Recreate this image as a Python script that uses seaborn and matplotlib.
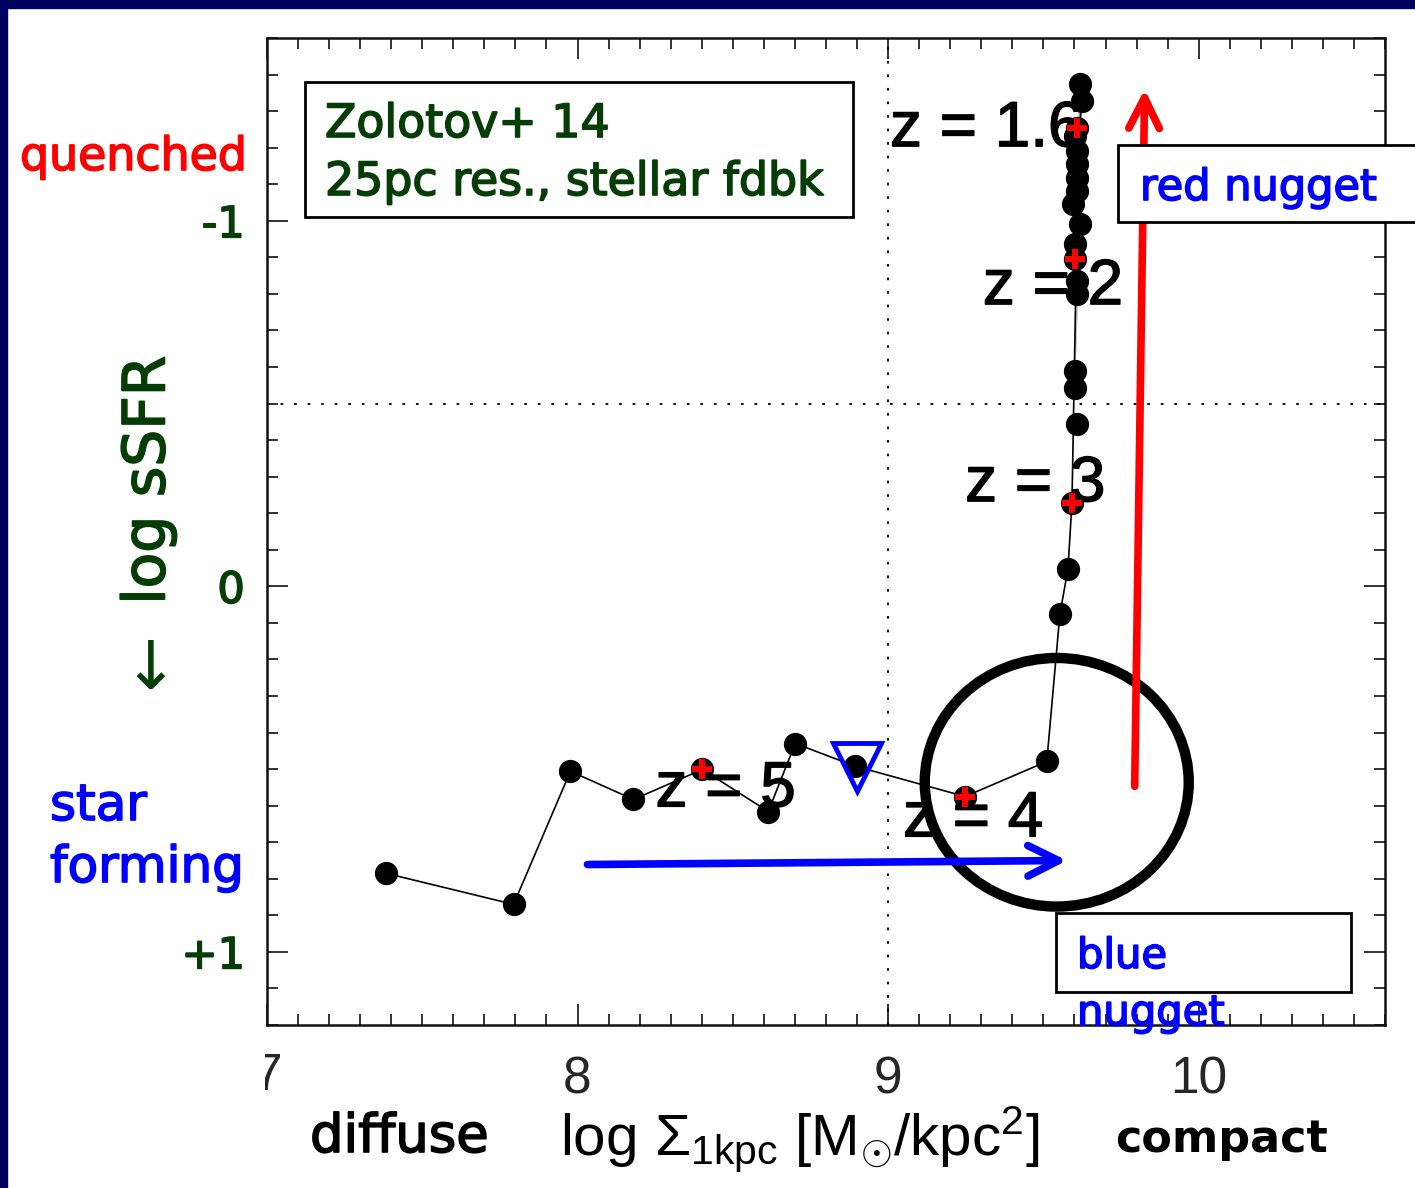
import matplotlib
matplotlib.use("Agg")
import matplotlib.pyplot as plt
import numpy as np
import pandas as pd
import seaborn as sns
from matplotlib.patches import Ellipse, Rectangle
from matplotlib.transforms import Bbox
from matplotlib.ticker import MultipleLocator
import matplotlib.patheffects as pe

# Evolution track of one simulated galaxy (high redshift -> low redshift)
log_sigma1 = [7.383, 7.794, 7.977, 8.180, 8.402, 8.614, 8.701, 8.894, 9.248, 9.511,
              9.553, 9.579, 9.592, 9.608, 9.601, 9.601, 9.608, 9.608, 9.601, 9.601,
              9.617, 9.595, 9.608, 9.608, 9.608, 9.608, 9.601, 9.608, 9.624, 9.617]
log_ssfr = [0.785, 0.870, 0.506, 0.583, 0.501, 0.616, 0.430, 0.492, 0.575, 0.479,
            0.077, -0.047, -0.227, -0.443, -0.542, -0.588, -0.799, -0.834, -0.895, -0.936,
            -0.990, -1.045, -1.081, -1.116, -1.155, -1.190, -1.231, -1.253, -1.327, -1.373]

# snapshots marked with a red cross, and their redshift labels
z_marker_index = [4, 8, 12, 18, 27]
z_labels = ["z = 5", "z = 4", "z = 3", "z = 2", "z = 1.6"]
z_label_pos = [(8.251, 0.602), (9.048, 0.684), (9.248, -0.233), (9.305, -0.772), (9.006, -1.204)]

# compaction event (open triangle)
compaction_x = [8.90]
compaction_y = [0.495]

x_ticks = [7, 8, 9, 10]
x_ticklabels = ["", "8", "9", "10"]
y_ticks = [-1, 0, 1]
y_ticklabels = ["-1", "0", "+1"]

sns.set_style("ticks")
COMIC = ["DejaVu Sans"]
HELV = ["Liberation Sans", "DejaVu Sans"]
plt.rcParams["font.family"] = HELV
plt.rcParams["mathtext.fontset"] = "custom"
plt.rcParams["mathtext.rm"] = "Liberation Sans"
plt.rcParams["mathtext.it"] = "Liberation Sans:italic"
plt.rcParams["mathtext.bf"] = "Liberation Sans:bold"

GREEN = "#063d06"
BLUE = "#0000ff"
RED = "#ff0000"
NAVY = "#00005e"

W, H = 1415, 1188
fig = plt.figure(figsize=(W / 100, H / 100), dpi=100)
fig.patch.set_facecolor("white")


def fx(px):
    return px / W


def fy(py):
    return 1 - py / H


def heavy(color, lw=1.2):
    # thicker strokes for the hand-written style labels
    return [pe.withStroke(linewidth=lw, foreground=color)]


ax = fig.add_axes([fx(267), fy(1025), fx(1385) - fx(267), (1025 - 38) / H])

track = pd.DataFrame({"sigma": log_sigma1, "ssfr": log_ssfr})
sns.lineplot(data=track, x="sigma", y="ssfr", sort=False, color="black", lw=1.2,
             ax=ax, zorder=3)
sns.scatterplot(data=track, x="sigma", y="ssfr", color="black", s=280,
                linewidth=0, ax=ax, zorder=4)
zm = track.iloc[z_marker_index]
sns.scatterplot(data=zm, x="sigma", y="ssfr", color=RED, marker="P", s=210,
                linewidth=0, ax=ax, zorder=5)
ax.plot(compaction_x, compaction_y, marker="v", ms=34, mfc="none", mec=BLUE,
        mew=3.5, ls="none", zorder=5)

for lab, (tx, ty) in zip(z_labels, z_label_pos):
    ax.text(tx, ty, lab, fontsize=46, family=HELV, color="black",
            ha="left", va="baseline", zorder=2, path_effects=heavy("black", 1.0))

# reference lines
ax.axvline(9, color="black", lw=1.3, ls=(0, (1.5, 6)), zorder=1)
ax.axhline(-0.5, color="black", lw=1.3, ls=(0, (1.5, 6)), zorder=1)

# compaction circle
ax.add_patch(Ellipse((9.543, 0.536), 0.85, 0.68, fill=False, ec="black",
                     lw=7.5, zorder=6))

# red (quenching) and blue (compaction) arrows
ax.annotate("", xy=(9.826, -1.36), xytext=(9.794, 0.547),
            arrowprops=dict(arrowstyle="->,head_length=22,head_width=11",
                            color=RED, lw=5.5, shrinkA=0, shrinkB=0,
                            mutation_scale=1), zorder=6)
ax.annotate("", xy=(9.576, 0.750), xytext=(8.032, 0.761),
            arrowprops=dict(arrowstyle="->,head_length=22,head_width=11",
                            color=BLUE, lw=5.5, shrinkA=0, shrinkB=0,
                            mutation_scale=1), zorder=6)

ax.set_xlim(7.0, 10.6)
ax.set_ylim(1.2, -1.5)
ax.set_xticks(x_ticks)
ax.set_xticklabels(x_ticklabels, fontsize=37, family=HELV)
ax.set_yticks(y_ticks)
ax.set_yticklabels(y_ticklabels, fontsize=31, family=COMIC, color=GREEN)
for lab in ax.get_yticklabels():
    lab.set_path_effects(heavy(GREEN))
ax.xaxis.set_minor_locator(MultipleLocator(0.1))
ax.yaxis.set_minor_locator(MultipleLocator(0.1))
ax.tick_params(which="both", direction="in", top=True, right=True, width=1.3,
               color="#222222")
ax.tick_params(which="major", length=15)
ax.tick_params(which="minor", length=8)
ax.tick_params(axis="x", which="major", pad=22)
ax.tick_params(axis="y", which="major", pad=16)
ax.set_xlabel("")
ax.set_ylabel("")
for sp in ax.spines.values():
    sp.set_linewidth(1.8)
    sp.set_color("#111111")
ax.set_facecolor("white")

# partially hidden "7" label at the left edge
t7 = fig.text(fx(268), fy(1077), "7", fontsize=37, family=HELV, ha="center",
              va="center")
t7.set_clip_on(True)
t7.set_clip_box(Bbox.from_extents(265, 0, W, H))

# slide frame
fig.patches.append(Rectangle((0, 0), fx(7), 1, transform=fig.transFigure,
                             color=NAVY, zorder=10))
fig.patches.append(Rectangle((0, fy(8)), 1, 8 / H, transform=fig.transFigure,
                             color=NAVY, zorder=10))

# left side labels
fig.text(fx(20), fy(170), "quenched", fontsize=33, family=COMIC, color=RED,
         ha="left", va="baseline", path_effects=heavy(RED))
fig.text(fx(148), fy(480), "log sSFR", fontsize=42, family=COMIC, color=GREEN,
         rotation=90, ha="center", va="center", path_effects=heavy(GREEN))
fig.text(fx(150), fy(670), "\u2193", fontsize=48, family=COMIC, color=GREEN,
         ha="center", va="center")
fig.text(fx(50), fy(820), "star", fontsize=36, family=COMIC, color=BLUE,
         ha="left", va="baseline", path_effects=heavy(BLUE))
fig.text(fx(50), fy(882), "forming", fontsize=36, family=COMIC, color=BLUE,
         ha="left", va="baseline", path_effects=heavy(BLUE))

# bottom labels
fig.text(fx(310), fy(1152), "diffuse", fontsize=38, family=COMIC, color="black",
         ha="left", va="baseline", path_effects=heavy("black", 1.2))
fig.text(fx(1115), fy(1152), "compact", fontsize=32, family=COMIC,
         fontweight="bold", color="black", ha="left", va="baseline")
fig.text(fx(560), fy(1156),
         r"log $\Sigma_{\mathrm{1kpc}}$ [M$_{\odot}$/kpc$^{2}$]",
         fontsize=42, family=HELV, color="black", ha="left", va="baseline")

# annotation boxes
def box(x0, y0, x1, y1, lw=2.0):
    fig.patches.append(Rectangle((fx(x0), fy(y1)), fx(x1) - fx(x0), (y1 - y0) / H,
                                 transform=fig.transFigure, facecolor="white",
                                 edgecolor="black", lw=lw, zorder=3))


box(305, 82, 853, 217)
fig.text(fx(325), fy(137), "Zolotov+ 14", fontsize=33, family=COMIC,
         color=GREEN, ha="left", va="baseline", zorder=4, path_effects=heavy(GREEN))
fig.text(fx(325), fy(195), "25pc res., stellar fdbk", fontsize=33, family=COMIC,
         color=GREEN, ha="left", va="baseline", zorder=4, path_effects=heavy(GREEN))

box(1118, 145, 1416, 222)
fig.text(fx(1140), fy(200), "red nugget", fontsize=31, family=COMIC,
         color=BLUE, ha="left", va="baseline", zorder=4, path_effects=heavy(BLUE))

box(1056, 913, 1351, 992)
fig.text(fx(1077), fy(968), "blue", fontsize=30, family=COMIC,
         color=BLUE, ha="left", va="baseline", zorder=4, path_effects=heavy(BLUE))
fig.text(fx(1077), fy(1025), "nugget", fontsize=30, family=COMIC,
         color=BLUE, ha="left", va="baseline", zorder=4, path_effects=heavy(BLUE))

fig.savefig("out.png", dpi=100)
